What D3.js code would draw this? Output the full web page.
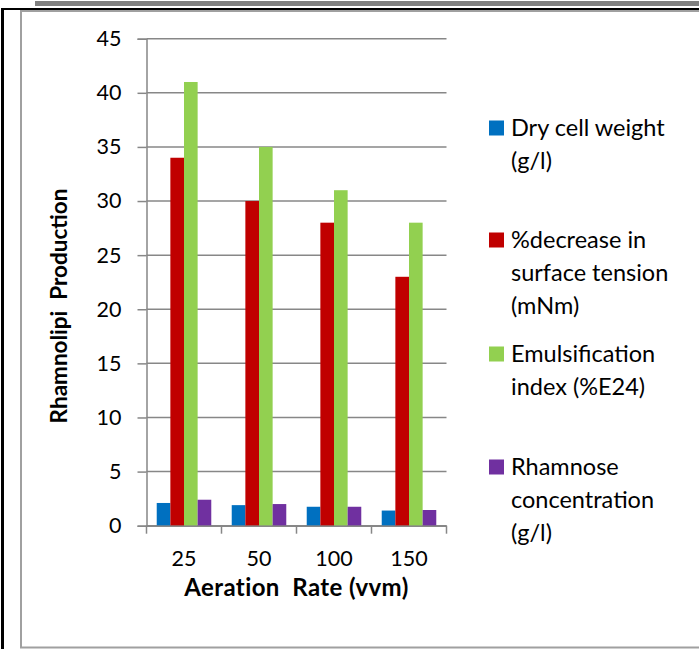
<!DOCTYPE html>
<html>
<head>
<meta charset="utf-8">
<script src="https://cdn.jsdelivr.net/npm/d3@7"></script>
<style>
  html, body { margin: 0; padding: 0; background: #fff; }
  svg { display: block; }
  text { font-family: Lato, "Noto Sans", sans-serif; fill: #000; }
</style>
</head>
<body>
<script>
const categories = ["25", "50", "100", "150"];
const seriesNames = [
  ["Dry cell weight", "(g/l)"],
  ["%decrease in", "surface tension", "(mNm)"],
  ["Emulsification", "index (%E24)"],
  ["Rhamnose", "concentration", "(g/l)"]
];
const seriesColors = ["#0070C0", "#C00000", "#92D050", "#7030A0"];
const dryCellWeight = [2.1, 1.9, 1.75, 1.4];
const surfaceTension = [34, 30, 28, 23];
const emulsification = [41, 35, 31, 28];
const rhamnose = [2.4, 2.0, 1.75, 1.45];
const yTicks = [0, 5, 10, 15, 20, 25, 30, 35, 40, 45];

const seriesValues = [dryCellWeight, surfaceTension, emulsification, rhamnose];

const W = 699, H = 649;
const svg = d3.select("body").append("svg").attr("width", W).attr("height", H);

// frame
svg.append("rect").attr("x", 35).attr("y", 1).attr("width", W - 35).attr("height", 5).attr("fill", "#808080");
svg.append("line").attr("x1", 1).attr("x2", W).attr("y1", 9).attr("y2", 9).attr("stroke", "#000").attr("stroke-width", 2);
svg.append("line").attr("x1", 2.5).attr("x2", 2.5).attr("y1", 8).attr("y2", H).attr("stroke", "#000").attr("stroke-width", 3);
svg.append("path").attr("d", `M${W},11 H21 V647.5 H${W}`).attr("fill", "none").attr("stroke", "#a0a0a0").attr("stroke-width", 2);

const plot = { left: 146.5, right: 446.5, top: 38.7, bottom: 525.7 };

const x = d3.scaleBand().domain(categories).range([plot.left, plot.right]).paddingInner(0).paddingOuter(0);
const xs = d3.scaleBand().domain(d3.range(seriesValues.length)).range([0, x.bandwidth()]).paddingInner(0).paddingOuter(0.75);
const y = d3.scaleLinear().domain([0, 45]).range([plot.bottom, plot.top]);

// gridlines
svg.append("g").selectAll("line").data(yTicks).join("line")
  .attr("x1", plot.left).attr("x2", plot.right)
  .attr("y1", d => y(d)).attr("y2", d => y(d))
  .attr("stroke", "#878787").attr("stroke-width", 1.5);

// bars
const groups = svg.append("g").selectAll("g").data(categories).join("g")
  .attr("transform", d => `translate(${x(d)},0)`);
groups.selectAll("rect").data((c, i) => seriesValues.map((s, k) => ({ k, v: s[i] }))).join("rect")
  .attr("x", d => xs(d.k)).attr("width", xs.bandwidth())
  .attr("y", d => y(d.v)).attr("height", d => y(0) - y(d.v))
  .attr("fill", d => seriesColors[d.k]);

// y axis
const yAxis = svg.append("g").attr("transform", `translate(${plot.left},0)`)
  .call(d3.axisLeft(y).tickValues(yTicks).tickSize(9).tickPadding(16).tickFormat(d3.format("d")));
yAxis.select(".domain").attr("stroke", "#878787").attr("stroke-width", 1.5);
yAxis.selectAll(".tick line").attr("stroke", "#878787").attr("stroke-width", 1.5);
yAxis.selectAll(".tick text").attr("font-family", "Lato, sans-serif").attr("font-size", 21.5).attr("fill", "#000");

// x axis
const xAxis = svg.append("g").attr("transform", `translate(0,${plot.bottom})`)
  .call(d3.axisBottom(x).tickSize(0).tickPadding(25).tickSizeOuter(0));
xAxis.select(".domain").attr("stroke", "#878787").attr("stroke-width", 1.5);
xAxis.selectAll(".tick text").attr("font-family", "Lato, sans-serif").attr("font-size", 21.5).attr("fill", "#000");
const boundaries = categories.map(c => x(c)).concat([x(categories[categories.length - 1]) + x.bandwidth()]);
svg.append("g").selectAll("line").data(boundaries).join("line")
  .attr("x1", d => d).attr("x2", d => d).attr("y1", plot.bottom).attr("y2", plot.bottom + 8)
  .attr("stroke", "#878787").attr("stroke-width", 1.5);

// axis titles
svg.append("text").attr("x", (plot.left + plot.right) / 2).attr("y", 596)
  .attr("text-anchor", "middle").attr("font-size", 24).attr("font-weight", "bold")
  .attr("letter-spacing", 0.4)
  .style("white-space", "pre").text("Aeration  Rate (vvm)");
svg.append("text").attr("transform", "translate(67,306) rotate(-90)")
  .attr("text-anchor", "middle").attr("font-size", 22.5).attr("font-weight", "bold")
  .style("white-space", "pre").text("Rhamnolipi  Production");

// legend
const legendTops = [128, 240, 354, 467];
const lg = svg.append("g").selectAll("g").data(seriesNames).join("g")
  .attr("transform", (d, i) => `translate(489,${legendTops[i]})`);
lg.append("rect").attr("x", 0).attr("y", -7.5).attr("width", 15).attr("height", 15)
  .attr("fill", (d, i) => seriesColors[i]);
lg.selectAll("text").data(d => d).join("text")
  .attr("x", 22).attr("y", (d, j) => j * 33).attr("dy", "0.36em")
  .attr("font-size", 23.5).text(d => d);
</script>
</body>
</html>
